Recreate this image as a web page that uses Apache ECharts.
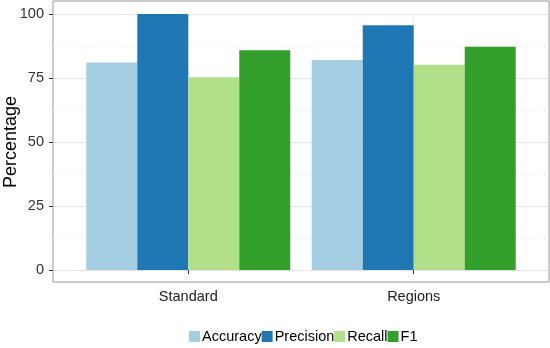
<!DOCTYPE html>
<html>
<head>
<meta charset="utf-8">
<script src="https://cdn.jsdelivr.net/npm/echarts@6/dist/echarts.min.js"></script>
<style>
  html, body { margin: 0; padding: 0; background: #fff; }
  #chart { width: 550px; height: 348px; }
</style>
</head>
<body>
<div id="chart"></div>
<script>
// groups sit at x = 1, 2 on a value axis so the panel can keep ggplot's padding
const categories = ['Standard', 'Regions']
const catPos = [1, 2]
const seriesNames = ['Accuracy', 'Precision', 'Recall', 'F1']
const accuracy = [81.1, 82.0]
const precision = [100, 95.6]
const recall = [75.3, 80.2]
const f1 = [85.8, 87.2]
const yTicks = [0, 25, 50, 75, 100]

const colors = ['#a6cee3', '#1f78b4', '#b2df8a', '#33a02c']
const font = '"Liberation Sans", Arial, Helvetica, sans-serif'

let myChart = echarts.init(document.getElementById('chart'))

const values = [accuracy, precision, recall, f1]
const series = seriesNames.map((name, i) => ({
  name: name,
  type: 'bar',
  xAxisIndex: 1,
  yAxisIndex: 1,
  barWidth: 51,
  barGap: '0%',
  itemStyle: { color: colors[i] },
  data: catPos.map((x, j) => [x, values[i][j]]),
}))

myChart.setOption({
  animation: false,
  color: colors,
  textStyle: { fontFamily: font },
  grid: [
    // outer panel (border only)
    { left: 53, right: 1, top: 1, bottom: 66, show: true, borderColor: '#999', borderWidth: 1,
      backgroundColor: 'transparent', containLabel: false, outerBoundsMode: 'none' },
    // data area, 0..100
    { left: 53, right: 1, top: 14, bottom: 78, containLabel: false, outerBoundsMode: 'none' },
  ],
  xAxis: [
    { gridIndex: 0, type: 'value', show: false, min: 0, max: 1 },
    {
      gridIndex: 1,
      type: 'value',
      min: 0.4,
      max: 2.6,
      offset: 12,
      axisLine: { show: false },
      axisTick: { show: true, customValues: catPos, length: 4, lineStyle: { color: '#333' } },
      axisLabel: {
        customValues: catPos,
        margin: 7,
        fontSize: 14.5,
        color: '#222',
        fontFamily: font,
        formatter: v => categories[catPos.indexOf(v)] || '',
      },
      splitLine: { show: true, lineStyle: { color: '#ebebeb', type: 'dotted' } },
    },
  ],
  yAxis: [
    { gridIndex: 0, type: 'value', show: false, min: 0, max: 1 },
    {
      gridIndex: 1,
      type: 'value',
      min: yTicks[0],
      max: yTicks[yTicks.length - 1],
      interval: 25,
      name: 'Percentage',
      nameLocation: 'middle',
      nameGap: 33,
      nameMoveOverlap: false,
      nameTextStyle: { fontSize: 18, color: '#000', fontFamily: font },
      axisLine: { show: false },
      axisTick: { show: true, length: 4, lineStyle: { color: '#333' } },
      axisLabel: { margin: 9, fontSize: 14.5, color: '#333', fontFamily: font },
      splitLine: { lineStyle: { color: '#e5e5e5' } },
      minorTick: { show: false, splitNumber: 2 },
      minorSplitLine: { show: true, lineStyle: { color: '#f5f5f5' } },
    },
  ],
  legend: {
    bottom: 4,
    left: 189,
    padding: 0,
    itemWidth: 11,
    itemHeight: 11,
    itemGap: 0,
    icon: 'rect',
    textStyle: { fontSize: 14.5, color: '#000', fontFamily: font, padding: [0, 0, 0, -3] },
    data: seriesNames,
  },
  series: series,
})
</script>
</body>
</html>
